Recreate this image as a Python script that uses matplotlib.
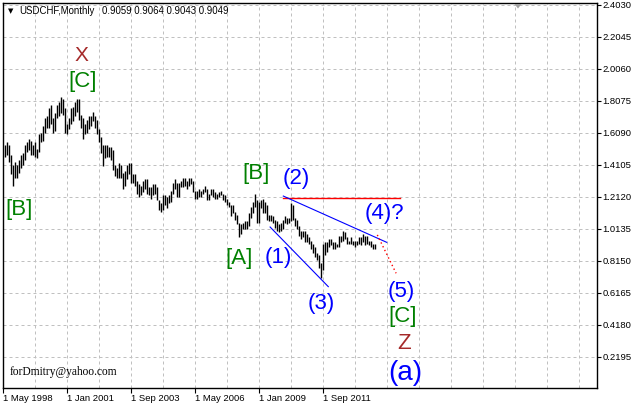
import matplotlib
matplotlib.use("Agg")
import matplotlib.pyplot as plt
from matplotlib.patches import Polygon
import numpy as np

# ---------------- data (monthly USDCHF, first bar = Jun 1998) ----------------
first_month_index = 1  # months since 1 May 1998
highs = [
    # 1998 Jun-Dec
    1.53, 1.55, 1.53, 1.47, 1.41, 1.43, 1.41,
    # 1999
    1.44, 1.47, 1.48, 1.53, 1.55, 1.57, 1.56, 1.53, 1.55, 1.51, 1.60, 1.61,
    # 2000
    1.65, 1.70, 1.71, 1.76, 1.78, 1.70, 1.73, 1.78, 1.80, 1.83, 1.82, 1.76,
    # 2001
    1.66, 1.70, 1.76, 1.77, 1.80, 1.82, 1.82, 1.72, 1.70, 1.66, 1.69, 1.71,
    # 2002
    1.71, 1.74, 1.71, 1.69, 1.63, 1.58, 1.53, 1.53, 1.53, 1.52, 1.52, 1.50,
    # 2003
    1.41, 1.39, 1.42, 1.41, 1.36, 1.37, 1.41, 1.42, 1.42, 1.35, 1.35, 1.31,
    # 2004
    1.29, 1.28, 1.31, 1.32, 1.32, 1.27, 1.27, 1.29, 1.29, 1.27, 1.19, 1.17,
    # 2005
    1.22, 1.22, 1.21, 1.22, 1.25, 1.30, 1.32, 1.30, 1.30, 1.31, 1.33, 1.33,
    # 2006
    1.31, 1.33, 1.33, 1.31, 1.25, 1.25, 1.26, 1.25, 1.26, 1.28, 1.26, 1.23,
    # 2007
    1.26, 1.26, 1.24, 1.23, 1.24, 1.25, 1.23, 1.22, 1.20, 1.18, 1.16, 1.16,
    # 2008
    1.12, 1.10, 1.05, 1.04, 1.05, 1.06, 1.06, 1.11, 1.15, 1.18, 1.23, 1.19,
    # 2009
    1.18, 1.19, 1.20, 1.18, 1.16, 1.10, 1.10, 1.09, 1.07, 1.06, 1.04, 1.05,
    # 2010
    1.07, 1.09, 1.08, 1.08, 1.175, 1.16, 1.08, 1.07, 1.03, 1.00, 1.00, 1.00,
    # 2011
    0.98, 0.96, 0.94, 0.92, 0.90, 0.86, 0.85, 0.80, 0.92, 0.93, 0.93, 0.95,
    # 2012
    0.95, 0.93, 0.93, 0.92, 0.97, 0.97, 1.00, 0.99, 0.96, 0.94, 0.96, 0.94,
    # 2013
    0.94, 0.94, 0.96, 0.96, 0.98, 0.97, 0.97, 0.94, 0.94, 0.92, 0.92, 0.9064,
]
lows = [
    # 1998 Jun-Dec
    1.46, 1.47, 1.43, 1.35, 1.28, 1.33, 1.33,
    # 1999
    1.36, 1.39, 1.41, 1.44, 1.49, 1.50, 1.47, 1.47, 1.46, 1.45, 1.49, 1.55,
    # 2000
    1.56, 1.61, 1.64, 1.64, 1.66, 1.61, 1.62, 1.70, 1.71, 1.73, 1.72, 1.61,
    # 2001
    1.60, 1.63, 1.66, 1.68, 1.71, 1.74, 1.69, 1.64, 1.57, 1.60, 1.61, 1.63,
    # 2002
    1.65, 1.68, 1.64, 1.60, 1.55, 1.48, 1.40, 1.45, 1.46, 1.46, 1.44, 1.38,
    # 2003
    1.34, 1.33, 1.33, 1.33, 1.26, 1.28, 1.32, 1.35, 1.30, 1.30, 1.28, 1.23,
    # 2004
    1.21, 1.22, 1.24, 1.26, 1.23, 1.22, 1.20, 1.22, 1.23, 1.19, 1.13, 1.12,
    # 2005
    1.13, 1.16, 1.14, 1.17, 1.18, 1.23, 1.26, 1.21, 1.21, 1.27, 1.27, 1.28,
    # 2006
    1.26, 1.28, 1.29, 1.24, 1.20, 1.20, 1.21, 1.21, 1.23, 1.24, 1.19, 1.19,
    # 2007
    1.22, 1.21, 1.20, 1.20, 1.21, 1.22, 1.19, 1.18, 1.16, 1.15, 1.09, 1.11,
    # 2008
    1.07, 1.04, 0.96, 0.98, 1.01, 1.01, 1.01, 1.03, 1.08, 1.11, 1.15, 1.05,
    # 2009
    1.05, 1.14, 1.11, 1.11, 1.07, 1.06, 1.06, 1.05, 1.02, 1.00, 0.99, 1.00,
    # 2010
    1.01, 1.05, 1.04, 1.05, 1.06, 1.07, 1.03, 1.01, 0.97, 0.95, 0.96, 0.93,
    # 2011
    0.93, 0.92, 0.89, 0.86, 0.84, 0.82, 0.77, 0.707, 0.76, 0.85, 0.87, 0.90,
    # 2012
    0.91, 0.89, 0.89, 0.90, 0.90, 0.93, 0.94, 0.95, 0.92, 0.92, 0.92, 0.91,
    # 2013
    0.90, 0.91, 0.92, 0.91, 0.93, 0.91, 0.92, 0.91, 0.90, 0.89, 0.89, 0.9043,
]

header_name = "USDCHF,Monthly"
header_ohlc = "0.9059 0.9064 0.9043 0.9049"

price_ticks = [2.4030, 2.2045, 2.0060, 1.8075, 1.6090, 1.4105, 1.2120,
               1.0135, 0.8150, 0.6165, 0.4180, 0.2195]
date_tick_months = [0, 32, 64, 96, 128, 160]
date_tick_labels = ["1 May 1998", "1 Jan 2001", "1 Sep 2003",
                    "1 May 2006", "1 Jan 2009", "1 Sep 2011"]

# wave labels: (text, month index, price, colour, size)
wave_labels = [
    ("X", 38.9, 2.087, "#A52A2A", 15),
    ("[C]", 39.6, 1.927, "#008000", 16),
    ("[B]", 8.1, 1.135, "#008000", 16),
    ("[B]", 126.4, 1.353, "#008000", 16),
    ("(2)", 146.4, 1.322, "#0000FF", 16),
    ("[A]", 118.1, 0.826, "#008000", 16),
    ("(1)", 137.4, 0.835, "#0000FF", 16),
    ("(3)", 159.1, 0.550, "#0000FF", 16),
    ("(4)?", 190.4, 1.105, "#0000FF", 16),
    ("(5)", 198.9, 0.627, "#0000FF", 16),
    ("[C]", 199.9, 0.472, "#008000", 16),
    ("Z", 200.4, 0.301, "#A52A2A", 16),
    ("(a)", 200.9, 0.118, "#0000FF", 20),
]

# drawn lines (month index, price)
red_level_x = [139.9, 198.4]
red_level_y = [1.202, 1.202]
upper_trend_x = [140.0, 191.7]
upper_trend_y = [1.216, 0.929]
lower_trend_x = [133.4, 162.5]
lower_trend_y = [1.024, 0.654]
proj_x = [187.0, 196.4]
proj_y = [0.975, 0.737]

# ---------------- figure ----------------
W, H = 636, 405
fig = plt.figure(figsize=(W / 100, H / 100), dpi=100, facecolor="white")
L, R, T, B = 3, 597, 3, 388
ax = fig.add_axes([L / W, (H - B) / H, (R - L) / W, (B - T) / H])
ax.set_facecolor("white")
ax.set_xlim(-0.15, 296.85)
ax.set_ylim(0.0254, 2.4135)

# grid
for m in range(0, 297, 16):
    ax.axvline(m, color="#C0C0C0", lw=0.72, ls=(0, (3, 3)), zorder=0)
for p in price_ticks:
    ax.axhline(p, color="#C0C0C0", lw=0.72, ls=(0, (3, 3)), zorder=0)

# bars
months = np.arange(len(highs)) + first_month_index
ax.vlines(months, lows, highs, color="black", lw=1.0, zorder=3)

# lines
ax.plot(red_level_x, red_level_y, color="#FF0000", lw=1.0, zorder=4)
ax.plot(upper_trend_x, upper_trend_y, color="#0000FF", lw=0.8, zorder=4)
ax.plot(lower_trend_x, lower_trend_y, color="#0000FF", lw=0.8, zorder=4)
ax.plot(proj_x, proj_y, color="#FF0000", lw=1.0, ls=(0, (1, 2)), zorder=4)

# wave labels
for txt, mx, py, col, sz in wave_labels:
    ax.text(mx, py, txt, color=col, fontsize=sz, ha="center", va="center",
            family="Liberation Sans", zorder=5)

ax.text(3.35, 0.125, "forDmitry@yahoo.com", fontsize=8.3,
        family="Liberation Serif", ha="left", va="center", color="black")

# axes styling
for s in ax.spines.values():
    s.set_color("black")
    s.set_linewidth(1.0)
ax.yaxis.tick_right()
ax.set_yticks(price_ticks)
ax.set_yticklabels([f"{p:.4f}" for p in price_ticks])
ax.set_xticks(date_tick_months)
ax.set_xticklabels(date_tick_labels)
for lab in ax.get_xticklabels():
    lab.set_horizontalalignment("left")
ax.tick_params(axis="y", direction="out", length=3, width=0.8, pad=1,
               labelsize=6.8, colors="black")
ax.tick_params(axis="x", direction="out", length=3.5, width=0.8, pad=0.5,
               labelsize=6.8, colors="black")
for lab in ax.get_xticklabels() + ax.get_yticklabels():
    lab.set_family("Liberation Sans")

# header
fig.text(10.3 / W, 1 - 11 / H, "\u25BC", fontsize=5, ha="center", va="center",
         color="black", family="DejaVu Sans")
fig.text(19 / W, 1 - 11 / H, header_name, fontsize=6.9, ha="left",
         va="center", family="Liberation Sans")
fig.text(101.5 / W, 1 - 11 / H, header_ohlc, fontsize=6.9, ha="left",
         va="center", family="Liberation Sans")
# grey shift marker hanging from the top edge
tri_px = [(514.5, 4.0), (521.5, 4.0), (518.0, 8.5)]
tri = Polygon([(x / W, 1 - y / H) for x, y in tri_px], closed=True,
              transform=fig.transFigure, facecolor="#A0A0A0",
              edgecolor="none", zorder=10)
fig.patches.append(tri)

fig.savefig("out.png", dpi=100, facecolor="white")
